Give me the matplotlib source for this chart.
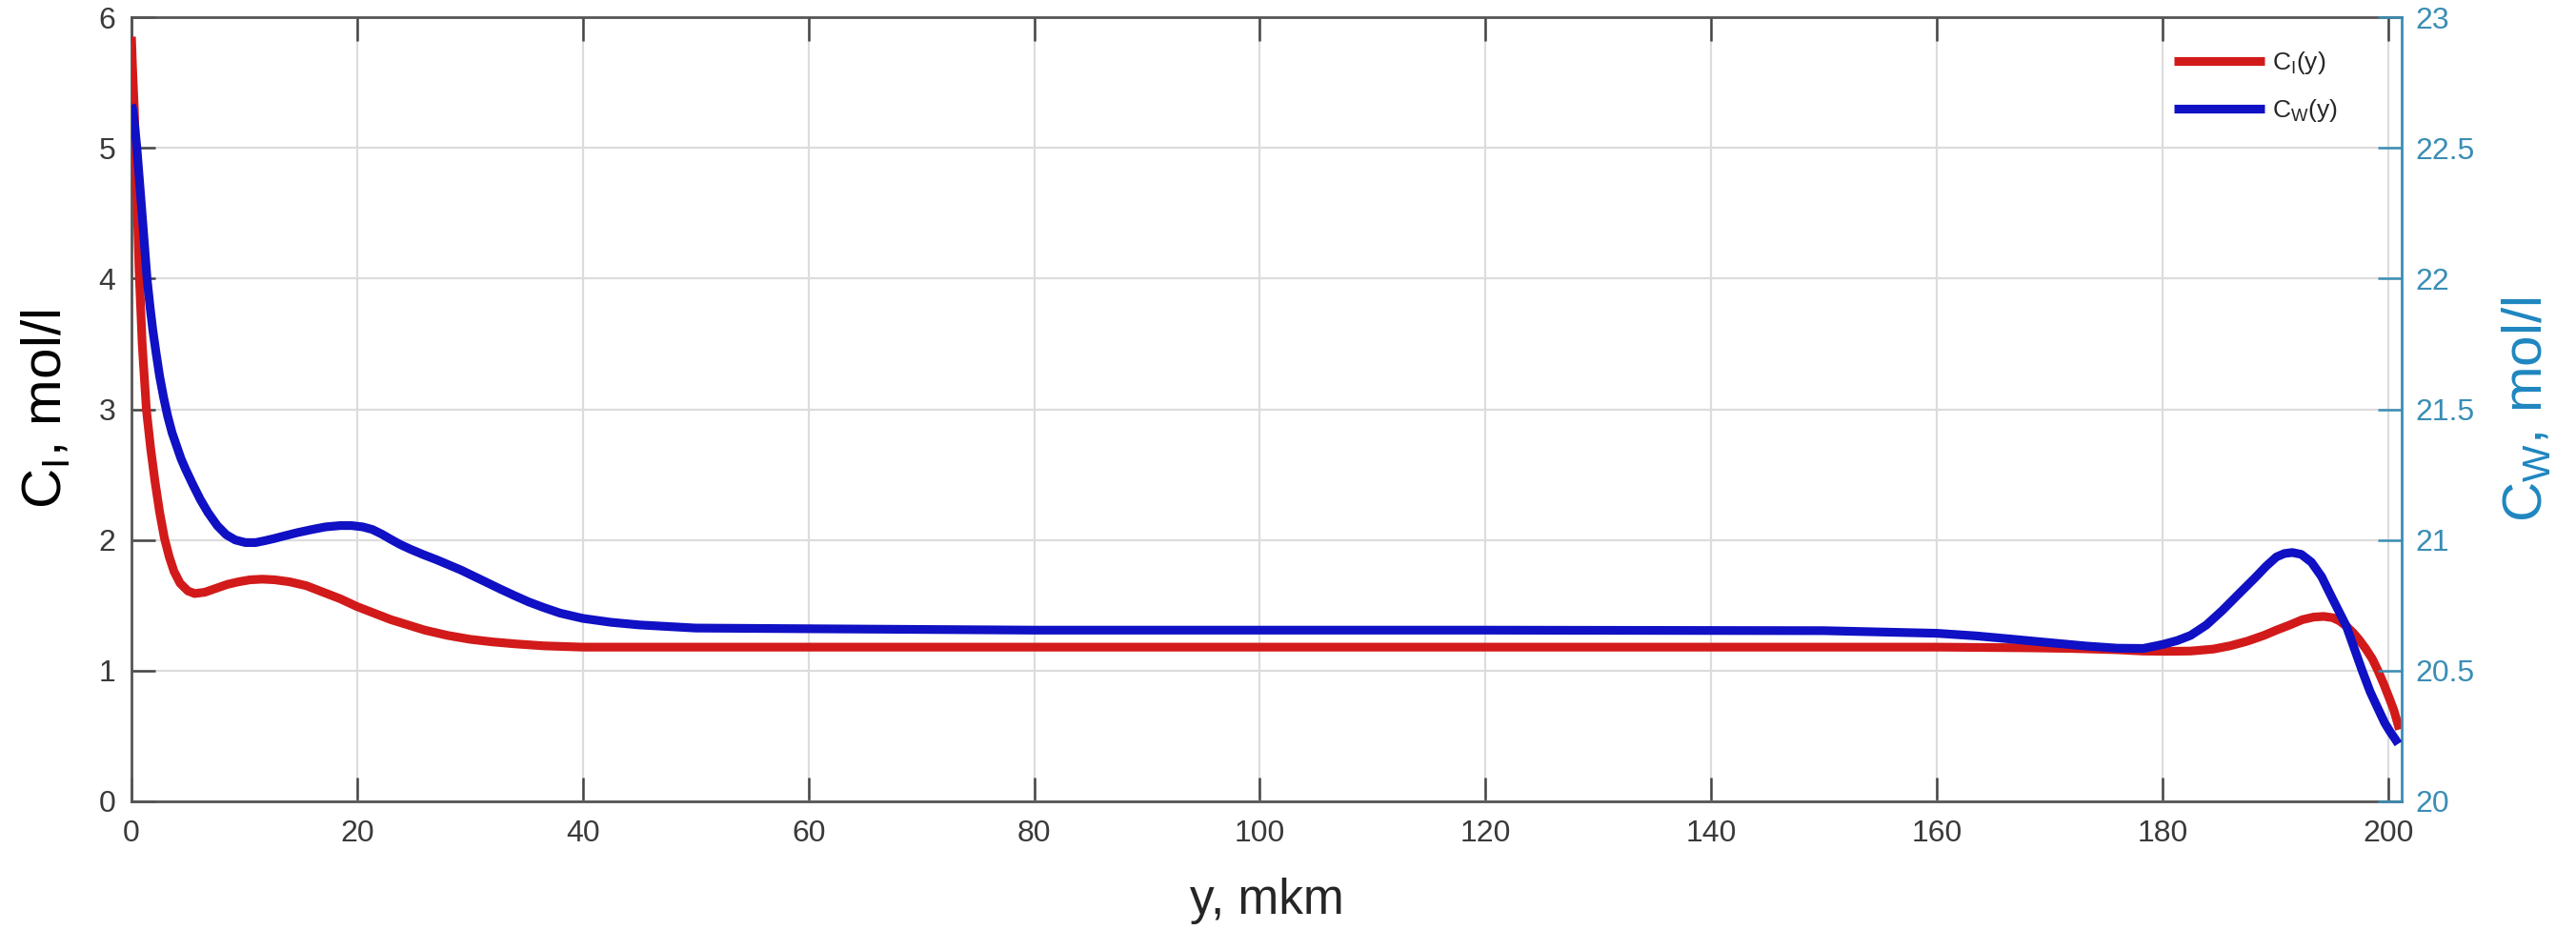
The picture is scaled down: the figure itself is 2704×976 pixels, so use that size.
import matplotlib
matplotlib.use("Agg")
import matplotlib.pyplot as plt

plt.rcParams['font.family'] = ['Liberation Sans', 'DejaVu Sans']
plt.rcParams['mathtext.default'] = 'regular'

# ---- data ----
# C_I(y), left axis, mol/l
red_x = [0, 0.1, 0.25, 0.45, 0.67, 0.95, 1.32, 1.7, 2.08, 2.5, 2.93, 3.35, 3.77, 4.3,
         5.0, 5.6, 6.5, 7.5, 8.5, 9.5, 10.5, 11.6, 12.7, 14, 15.5, 17, 18.5, 20, 21.5,
         23, 24.5, 26, 28, 30, 32, 34, 36.5, 40, 45, 50, 60, 80, 100, 120, 140, 160,
         168, 172, 176, 178.3, 180.5, 182.5, 184.5, 186, 187.5, 189, 190.1, 191.3,
         192.4, 193.4, 194.3, 195.1, 195.7, 196.3, 196.9, 197.4, 198, 198.6, 199.1,
         199.6, 200.1, 200.5, 201]
red_y = [5.85, 5.6, 5.3, 4.72, 4.08, 3.5, 3.0, 2.7, 2.45, 2.21, 2.01, 1.87, 1.76, 1.67,
         1.61, 1.59, 1.6, 1.63, 1.66, 1.68, 1.695, 1.70, 1.695, 1.68, 1.65, 1.60, 1.55,
         1.49, 1.44, 1.39, 1.35, 1.31, 1.27, 1.24, 1.22, 1.205, 1.19, 1.18, 1.18, 1.18,
         1.18, 1.18, 1.18, 1.18, 1.18, 1.18, 1.175, 1.17, 1.16, 1.15, 1.148, 1.15,
         1.165, 1.19, 1.225, 1.27, 1.31, 1.35, 1.39, 1.41, 1.415, 1.405, 1.38, 1.34,
         1.29, 1.24, 1.17, 1.09, 1.0, 0.9, 0.79, 0.7, 0.55]

# C_W(y), right axis, mol/l
blue_x = [0, 0.1, 0.25, 0.48, 0.7, 0.9, 1.15, 1.38, 1.65, 1.9, 2.2, 2.5, 2.85, 3.2,
          3.6, 4.0, 4.4, 4.8, 5.46, 6.1, 6.78, 7.6, 8.4, 9.2, 10.1, 11, 11.8, 12.7,
          13.5, 14.7, 16, 17.2, 18.5, 19.5, 20.5, 21.35, 22.2, 23, 23.8, 24.7, 25.8,
          27, 28.1, 29.2, 30.4, 31.6, 32.8, 34, 35.2, 36.5, 38, 40, 42.5, 45, 50, 80,
          120, 150, 157, 160, 163.5, 166.8, 170, 173.3, 176, 178.3, 180, 181.3, 182.5,
          183.9, 185.3, 186.8, 188.2, 189.2, 190.1, 190.8, 191.5, 192.3, 193.2, 194.1,
          194.9, 195.6, 196.3, 197, 197.7, 198.4, 199.1, 199.7, 200.2, 200.6, 200.9]
blue_y = [22.665, 22.65, 22.6, 22.5, 22.38, 22.27, 22.13, 22.0, 21.89, 21.8, 21.71,
          21.625, 21.545, 21.475, 21.41, 21.36, 21.31, 21.27, 21.21, 21.155, 21.105,
          21.055, 21.02, 21.0, 20.99, 20.99, 20.997, 21.006, 21.015, 21.028, 21.04,
          21.05, 21.055, 21.055, 21.05, 21.04, 21.022, 21.002, 20.983, 20.965, 20.945,
          20.925, 20.905, 20.885, 20.86, 20.835, 20.81, 20.786, 20.763, 20.742, 20.72,
          20.70, 20.685, 20.675, 20.663, 20.655, 20.655, 20.653, 20.646, 20.643,
          20.633, 20.62, 20.607, 20.594, 20.586, 20.585, 20.60, 20.615, 20.635, 20.675,
          20.73, 20.795, 20.855, 20.9, 20.935, 20.948, 20.952, 20.945, 20.915, 20.86,
          20.79, 20.73, 20.67, 20.585, 20.5, 20.42, 20.355, 20.3, 20.265, 20.24, 20.22]

x_ticks = [0, 20, 40, 60, 80, 100, 120, 140, 160, 180, 200]
left_ticks = [0, 1, 2, 3, 4, 5, 6]
right_ticks = [20, 20.5, 21, 21.5, 22, 22.5, 23]
right_tick_labels = ['20', '20.5', '21', '21.5', '22', '22.5', '23']

# ---- styling ----
RED = '#d21a1a'
BLUE = '#1010c4'
TEAL = '#3a8db5'
TEAL_LABEL = '#1f86c0'
DARK = '#262626'

fig = plt.figure(figsize=(13.52, 4.88), dpi=200)
ax = fig.add_axes([138/2704, 1-841/976, (2521-138)/2704, (841-18)/976])
ax2 = ax.twinx()

l1, = ax.plot(red_x, red_y, color=RED, lw=3.3, solid_capstyle='butt',
              solid_joinstyle='round', zorder=3)
l2, = ax2.plot(blue_x, blue_y, color=BLUE, lw=3.3, solid_capstyle='butt',
               solid_joinstyle='round', zorder=3)

ax.set_xlim(0, 201.2)
ax.set_ylim(0, 6)
ax2.set_ylim(20, 23)
ax.set_xticks(x_ticks)
ax.set_yticks(left_ticks)
ax2.set_yticks(right_ticks)
ax2.set_yticklabels(right_tick_labels)

ax.grid(True, color='#dcdcdc', lw=0.8)
ax.set_axisbelow(True)

ax.tick_params(axis='both', direction='in', length=9, width=0.9, colors='#444444',
               labelsize=11.5, top=True, labelcolor='#3a3a3a')
ax.tick_params(axis='y', right=False, pad=6)
ax.tick_params(axis='x', pad=7)
ax2.tick_params(axis='y', direction='in', length=9, width=0.9, colors=TEAL,
                labelsize=11.5, pad=5)

for s in ['left', 'bottom', 'top']:
    ax.spines[s].set_color('#555555')
    ax.spines[s].set_linewidth(1.0)
ax.spines['right'].set_visible(False)
for s in ['left', 'bottom', 'top']:
    ax2.spines[s].set_visible(False)
ax2.spines['right'].set_color(TEAL)
ax2.spines['right'].set_linewidth(1.0)

ax.set_xlabel('y, mkm', fontsize=18.5, color=DARK, labelpad=11)
ax.set_ylabel('$C_I$, mol/l', fontsize=21, color='black', labelpad=10)
ax2.set_ylabel('$C_W$, mol/l', fontsize=21, color=TEAL_LABEL, labelpad=10)

leg = fig.legend([l1, l2], ['$C_I$(y)', '$C_W$(y)'], loc='upper left',
                 bbox_to_anchor=(2282/2704, 1-52/976), frameon=False,
                 fontsize=9.5, handlelength=3.6, handletextpad=0.3,
                 labelspacing=0.85, borderpad=0, borderaxespad=0)
for t in leg.get_texts():
    t.set_color(DARK)

fig.savefig('out.png', dpi=200)
